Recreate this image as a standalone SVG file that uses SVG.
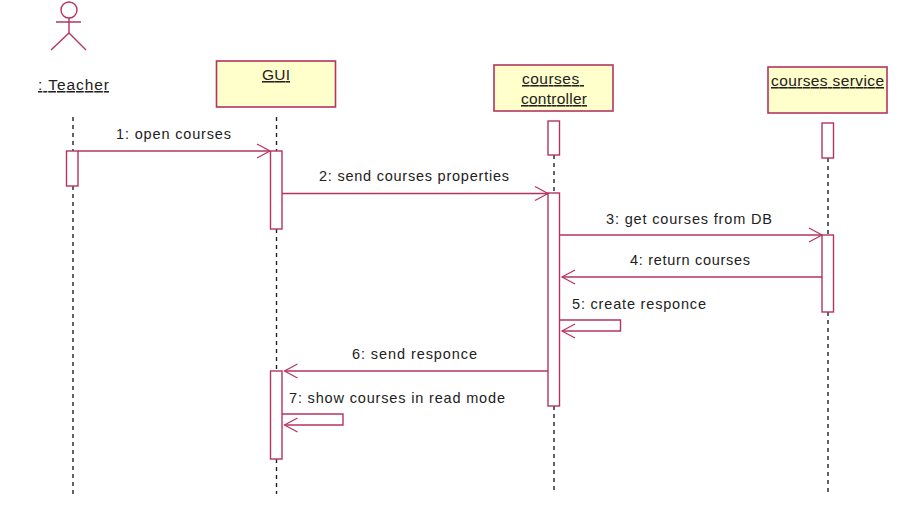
<svg xmlns="http://www.w3.org/2000/svg" width="914" height="524" viewBox="0 0 914 524">
<style>
.box{fill:#ffffcc;stroke:#b5345f;stroke-width:1.6}
.act{fill:#fff;stroke:#b5345f;stroke-width:1.4}
.life{fill:none;stroke:#222;stroke-width:1.4;stroke-dasharray:4 4}
.msg{fill:none;stroke:#b5345f;stroke-width:1.4}
.actor{fill:none;stroke:#b5345f;stroke-width:1.4}
text{font-family:"Liberation Sans",Arial,sans-serif;font-size:14.500px;fill:#222}
.t{text-decoration:underline;font-size:15.500px}
</style>
<defs>
<marker id="open" markerUnits="userSpaceOnUse" markerWidth="20" markerHeight="20" refX="15" refY="10" orient="auto">
<path d="M2 3L15 10L2 17" fill="none" stroke="#b5345f" stroke-width="1.2"/>
</marker>
</defs>
<g id="lifelines">
<path class="life" d="M73 117V151M73 186V494"/>
<path class="life" d="M276.500 117V151M276.500 229V371M276.500 459V494"/>
<path class="life" d="M554 155V193M554 406V494"/>
<path class="life" d="M828 158V235M828 312V494"/>
</g>
<g id="teacher">
<circle class="actor" cx="69" cy="10" r="8"/>
<path class="actor" d="M56 22H81M69 18V33M51 50L69 33L86 50"/>
<text class="t" x="38" y="90" textLength="71">: Teacher</text>
<rect class="act" x="66.500" y="151" width="11.500" height="35"/>
</g>
<g id="gui">
<rect class="box" x="216.500" y="61" width="119" height="46"/>
<text class="t" x="262" y="80" textLength="28">GUI</text>
<rect class="act" x="270.500" y="151" width="11.500" height="78"/>
<rect class="act" x="270.500" y="371" width="11.500" height="88"/>
</g>
<g id="controller">
<rect class="box" x="494" y="65" width="119" height="46"/>
<text class="t" x="522" y="84" textLength="62" xml:space="preserve">courses </text>
<text class="t" x="521" y="104" textLength="66">controller</text>
<rect class="act" x="548" y="121" width="11.500" height="34"/>
<rect class="act" x="548" y="193" width="11.500" height="213"/>
</g>
<g id="service">
<rect class="box" x="768" y="67" width="119" height="46"/>
<text class="t" x="771" y="86" textLength="113">courses service</text>
<rect class="act" x="822" y="123" width="11.500" height="35"/>
<rect class="act" x="822" y="235" width="11.500" height="77"/>
</g>
<g id="connectors">
<path class="msg" d="M78 151H270" marker-end="url(#open)"/>
<path class="msg" d="M282 193.500H548" marker-end="url(#open)"/>
<path class="msg" d="M559.500 235H822" marker-end="url(#open)"/>
<path class="msg" d="M822 277H562" marker-end="url(#open)"/>
<path class="msg" d="M559.500 320H620.500V331H562" marker-end="url(#open)"/>
<path class="msg" d="M548 371H284.500" marker-end="url(#open)"/>
<path class="msg" d="M282 414H343V425H284.500" marker-end="url(#open)"/>
</g>
<g id="labels">
<text x="116" y="139" textLength="115">1: open courses</text>
<text x="319" y="181" textLength="190">2: send courses properties</text>
<text x="606" y="224" textLength="166">3: get courses from DB</text>
<text x="630" y="265" textLength="120">4: return courses</text>
<text x="572" y="309" textLength="134">5: create responce</text>
<text x="352" y="359" textLength="125">6: send responce</text>
<text x="289" y="403" textLength="216">7: show courses in read mode</text>
</g>
</svg>
